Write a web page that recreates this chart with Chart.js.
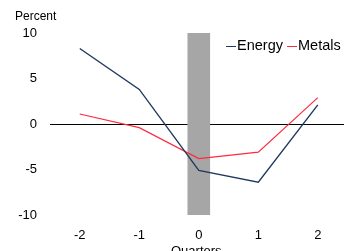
<!DOCTYPE html>
<html>
<head>
<meta charset="utf-8">
<script src="https://cdn.jsdelivr.net/npm/chart.js@4/dist/chart.umd.min.js"></script>
<style>
  html, body { margin: 0; padding: 0; background: #fff; overflow: hidden; }
  #wrap { position: relative; width: 344px; height: 251px; overflow: hidden; }
  canvas { position: absolute; left: 0; top: 0; }
  .lbl { position: absolute; font-family: "Liberation Sans", Arial, sans-serif; color: #000; white-space: nowrap; }
  .key { display: inline-block; width: 10px; height: 0; border-top: 1.5px solid; vertical-align: middle; margin-right: 1px; }
</style>
</head>
<body>
<div id="wrap">
  <canvas id="chart" width="344" height="252"></canvas>
  <div class="lbl" style="left:15px; top:9px; font-size:12px;">Percent</div>
  <div class="lbl" style="left:171px; top:243px; font-size:13px;">Quarters</div>
  <div class="lbl" id="legend" style="left:226px; top:37px; font-size:14.5px;"></div>
</div>
<script>
// 季度（相对于事件）
const quarters = [-2, -1, 0, 1, 2];
// 能源价格变化（%）
const energyValues = [8.3, 3.8, -5.1, -6.4, 2.1];
// 金属价格变化（%）
const metalsValues = [1.1, -0.4, -3.8, -3.1, 2.9];
const yTicks = [-10, -5, 0, 5, 10];
// 阴影区间
const shadeRange = [-0.19, 0.19];

const seriesNames = ['Energy', 'Metals'];
const seriesColors = ['#1f3a60', '#ff2a3c'];

// 灰色阴影带
const shadePlugin = {
    id: 'shadeBand',
    beforeDatasetsDraw(chart) {
        const x = chart.scales.x, y = chart.scales.y;
        const ctx = chart.ctx;
        const left = x.getPixelForValue(shadeRange[0]);
        const right = x.getPixelForValue(shadeRange[1]);
        const top = y.getPixelForValue(yTicks[yTicks.length - 1]);
        const bottom = y.getPixelForValue(yTicks[0]);
        ctx.save();
        ctx.fillStyle = '#a6a6a6';
        ctx.fillRect(left, top, right - left, bottom - top);
        ctx.restore();
    }
};

const toPoints = vals => quarters.map((q, i) => ({ x: q, y: vals[i] }));

new Chart(document.getElementById('chart'), {
    type: 'line',
    data: {
        datasets: [
            { label: seriesNames[0], data: toPoints(energyValues), borderColor: seriesColors[0], borderWidth: 1.4, pointRadius: 0, tension: 0 },
            { label: seriesNames[1], data: toPoints(metalsValues), borderColor: seriesColors[1], borderWidth: 1.2, pointRadius: 0, tension: 0 }
        ]
    },
    options: {
        responsive: false,
        animation: false,
        layout: { padding: { top: 33, right: 0, left: 0, bottom: 0 } },
        plugins: { legend: { display: false }, tooltip: { enabled: false } },
        scales: {
            x: {
                type: 'linear',
                min: -2.5,
                max: 2.44,
                afterBuildTicks: axis => { axis.ticks = quarters.map(v => ({ value: v })); },
                afterFit: axis => { axis.height = 37; },
                grid: { display: false, drawTicks: false },
                border: { display: false },
                ticks: { padding: 13, color: '#000', font: { family: 'Liberation Sans', size: 13 } }
            },
            y: {
                min: -10,
                max: 10,
                afterBuildTicks: axis => { axis.ticks = yTicks.map(v => ({ value: v })); },
                afterFit: axis => { axis.width = 50; },
                grid: {
                    drawTicks: false,
                    color: ctx => ctx.tick && ctx.tick.value === 0 ? '#000' : 'rgba(0,0,0,0)',
                    lineWidth: 1
                },
                border: { display: false },
                ticks: { padding: 13, color: '#000', font: { family: 'Liberation Sans', size: 13 } }
            }
        }
    },
    plugins: [shadePlugin]
});

// 图例
document.getElementById('legend').innerHTML = seriesNames.map((n, i) =>
    '<span class="key" style="border-color:' + seriesColors[i] + '"></span>' + n
).join(' ');
</script>
</body>
</html>
